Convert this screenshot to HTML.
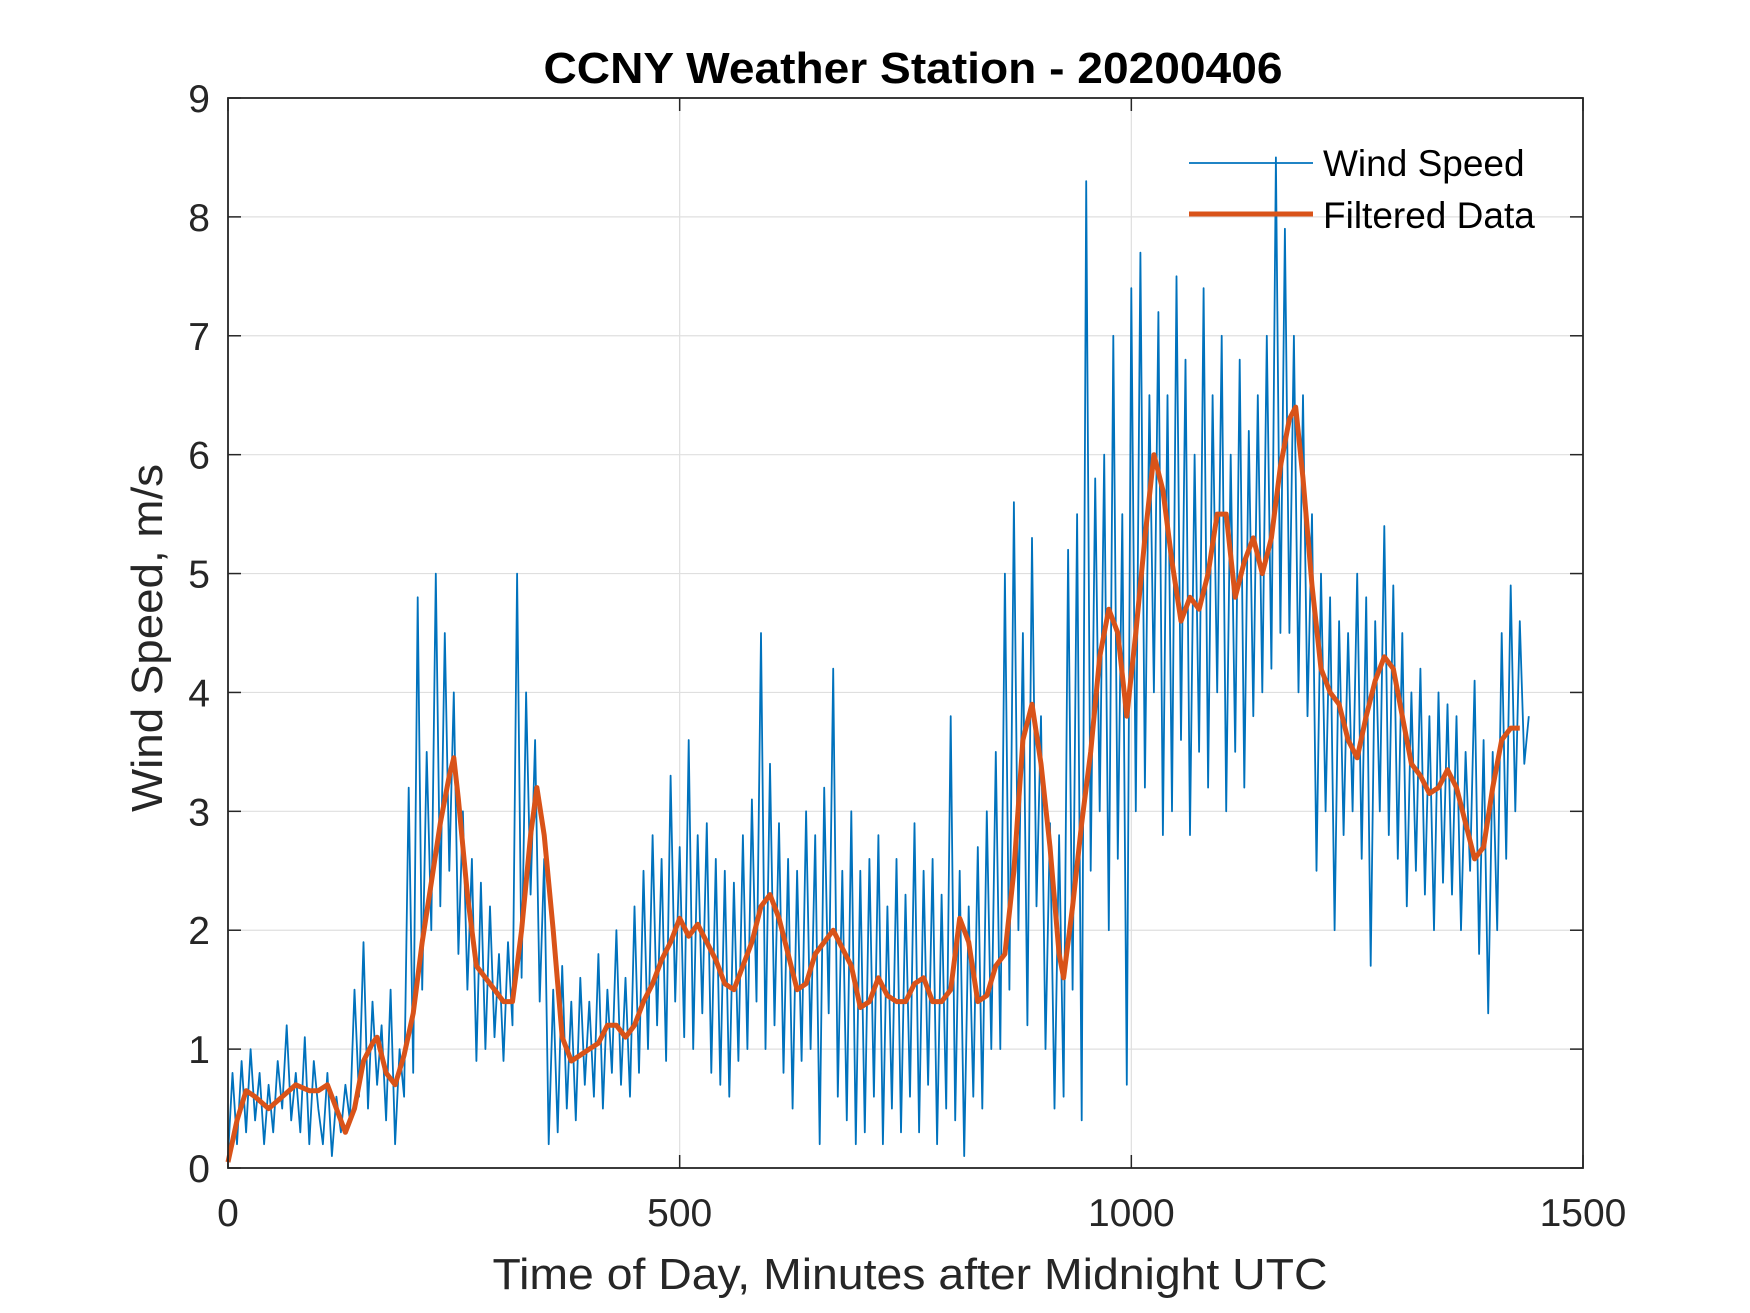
<!DOCTYPE html>
<html><head><meta charset="utf-8"><style>
html,body{margin:0;padding:0;background:#fff;}
svg{display:block;font-family:"Liberation Sans",Arial,sans-serif;}
</style></head><body>
<svg id="chart" width="1750" height="1313" viewBox="0 0 1750 1313" xmlns="http://www.w3.org/2000/svg">
<rect width="1750" height="1313" fill="#fff"/>
<g id="grid"></g>
<g id="series"></g>
<g id="axes"></g>
<text x="913" y="83" text-anchor="middle" font-size="44" font-weight="bold" fill="#000" textLength="739" lengthAdjust="spacingAndGlyphs">CCNY Weather Station - 20200406</text>
<text x="910" y="1289" text-anchor="middle" font-size="44" fill="#262626" textLength="835" lengthAdjust="spacingAndGlyphs">Time of Day, Minutes after Midnight UTC</text>
<text transform="translate(162,638) rotate(-90)" text-anchor="middle" font-size="44" fill="#262626" textLength="348" lengthAdjust="spacingAndGlyphs">Wind Speed, m/s</text>
<g>
  <line x1="1189" y1="163" x2="1313" y2="163" stroke="#0072BD" stroke-width="1.8"/>
  <text x="1323" y="176" font-size="37" fill="#000">Wind Speed</text>
  <line x1="1189" y1="214" x2="1313" y2="214" stroke="#D95319" stroke-width="5"/>
  <text x="1323" y="228" font-size="37" fill="#000">Filtered Data</text>
</g>
</svg>
<script>
const rawStep = 5;
const windSpeed = [
0.1,0.8,0.2,0.9,0.3,1.0,0.4,0.8,0.2,0.7,
0.3,0.9,0.5,1.2,0.4,0.8,0.3,1.1,0.2,0.9,
0.5,0.2,0.8,0.1,0.6,0.3,0.7,0.4,1.5,0.6,
1.9,0.5,1.4,0.7,1.2,0.4,1.5,0.2,1.0,0.6,
3.2,0.8,4.8,1.5,3.5,2.0,5.0,2.2,4.5,2.5,
4.0,1.8,3.0,1.5,2.6,0.9,2.4,1.0,2.2,1.1,
1.8,0.9,1.9,1.2,5.0,1.6,4.0,2.3,3.6,1.4,
2.6,0.2,1.5,0.3,1.7,0.5,1.4,0.4,1.6,0.7,
1.4,0.6,1.8,0.5,1.5,0.8,2.0,0.7,1.6,0.6,
2.2,0.8,2.5,1.0,2.8,1.2,2.6,0.9,3.3,1.4,
2.7,1.1,3.6,1.0,2.8,1.3,2.9,0.8,2.6,0.7,
2.5,0.6,2.4,0.9,2.8,1.0,3.1,1.4,4.5,1.0,
3.4,1.2,2.9,0.8,2.6,0.5,2.5,0.9,3.0,1.0,
2.8,0.2,3.2,1.3,4.2,0.6,2.5,0.4,3.0,0.2,
2.5,0.3,2.6,0.6,2.8,0.2,2.2,0.5,2.6,0.3,
2.3,0.6,2.9,0.3,2.5,0.7,2.6,0.2,2.3,0.5,
3.8,0.4,2.5,0.1,2.2,0.6,2.7,0.5,3.0,1.0,
3.5,1.0,5.0,1.5,5.6,2.0,4.5,1.2,5.3,2.2,
3.8,1.0,2.9,0.5,2.8,0.6,5.2,1.5,5.5,0.4,
8.3,2.5,5.8,3.0,6.0,2.0,7.0,2.6,5.5,0.7,
7.4,3.0,7.7,3.2,6.5,4.0,7.2,2.8,6.5,3.0,
7.5,3.6,6.8,2.8,6.0,3.5,7.4,3.2,6.5,4.0,
7.0,3.0,6.0,3.5,6.8,3.2,6.2,3.8,6.5,4.0,
7.0,4.2,8.5,4.5,7.9,4.5,7.0,4.0,6.5,3.8,
5.5,2.5,5.0,3.0,4.8,2.0,4.6,2.8,4.5,3.0,
5.0,2.6,4.8,1.7,4.6,3.0,5.4,2.8,4.9,2.6,
4.5,2.2,4.0,2.5,4.2,2.3,3.8,2.0,4.0,2.4,
3.9,2.3,3.8,2.0,3.5,2.5,4.1,1.8,3.6,1.3,
3.5,2.0,4.5,2.6,4.9,3.0,4.6,3.4,3.8
];
const filtT = [0,10,20,30,45,60,75,90,100,110,120,130,140,150,160,165,175,185,195,205,215,225,235,245,250,255,265,275,285,295,305,315,325,335,342,350,360,370,380,390,400,410,420,430,440,450,460,470,480,490,500,510,520,530,540,550,560,570,580,590,600,610,620,630,640,650,660,670,680,690,700,710,720,730,740,750,760,770,780,790,800,810,820,830,840,850,860,870,880,890,900,910,920,925,935,945,955,965,975,985,995,1005,1015,1025,1035,1045,1055,1065,1075,1085,1095,1105,1115,1125,1135,1145,1155,1165,1175,1182,1190,1200,1210,1220,1230,1240,1250,1260,1270,1280,1290,1300,1310,1320,1330,1340,1350,1360,1370,1380,1390,1400,1410,1420,1430];
const filtV = [0.05,0.4,0.65,0.6,0.5,0.6,0.7,0.65,0.65,0.7,0.5,0.3,0.5,0.9,1.05,1.1,0.8,0.7,0.95,1.3,1.9,2.4,2.9,3.3,3.45,3.1,2.3,1.7,1.6,1.5,1.4,1.4,2.0,2.8,3.2,2.8,2.0,1.1,0.9,0.95,1.0,1.05,1.2,1.2,1.1,1.2,1.4,1.55,1.75,1.9,2.1,1.95,2.05,1.9,1.75,1.55,1.5,1.7,1.9,2.2,2.3,2.1,1.8,1.5,1.55,1.8,1.9,2.0,1.85,1.7,1.35,1.4,1.6,1.45,1.4,1.4,1.55,1.6,1.4,1.4,1.5,2.1,1.9,1.4,1.45,1.7,1.8,2.5,3.6,3.9,3.4,2.7,1.8,1.6,2.2,2.9,3.5,4.3,4.7,4.5,3.8,4.5,5.3,6.0,5.7,5.1,4.6,4.8,4.7,5.0,5.5,5.5,4.8,5.1,5.3,5.0,5.3,5.9,6.3,6.4,5.8,4.9,4.2,4.0,3.9,3.6,3.45,3.8,4.1,4.3,4.2,3.8,3.4,3.3,3.15,3.2,3.35,3.2,2.9,2.6,2.7,3.2,3.6,3.7,3.7];
const xTicks = [0,500,1000,1500];
const yTicks = [0,1,2,3,4,5,6,7,8,9];

const L=228,R=1583,T=98,B=1168;
const sx=v=>L+(v/1500)*(R-L);
const sy=v=>B-(v/9)*(B-T);
const NS="http://www.w3.org/2000/svg";
function mk(tag,attrs,parent){const e=document.createElementNS(NS,tag);for(const k in attrs)e.setAttribute(k,attrs[k]);parent.appendChild(e);return e;}
const grid=document.getElementById('grid'),series=document.getElementById('series'),axes=document.getElementById('axes');
xTicks.forEach(t=>{
  const g=mk('line',{x1:sx(t),x2:sx(t),y1:T,y2:B,stroke:'#dfdfdf','stroke-width':1.2},grid);
  
  
  const tk1=mk('line',{x1:sx(t),x2:sx(t),y1:B,y2:B-13,stroke:'#262626','stroke-width':1.5},axes);
  
  
  const tk2=mk('line',{x1:sx(t),x2:sx(t),y1:T,y2:T+13,stroke:'#262626','stroke-width':1.5},axes);
  
  
  const lb=mk('text',{x:sx(t),y:1226,'text-anchor':'middle','font-size':39,fill:'#262626'},axes);
  lb.textContent=t;
  
  
});
yTicks.forEach(t=>{
  const g=mk('line',{x1:L,x2:R,y1:sy(t),y2:sy(t),stroke:'#dfdfdf','stroke-width':1.2},grid);
  
  
  const tk1=mk('line',{x1:L,x2:L+13,y1:sy(t),y2:sy(t),stroke:'#262626','stroke-width':1.5},axes);
  
  
  const tk2=mk('line',{x1:R,x2:R-13,y1:sy(t),y2:sy(t),stroke:'#262626','stroke-width':1.5},axes);
  
  
  const lb=mk('text',{x:210,y:sy(t)+14,'text-anchor':'end','font-size':39,fill:'#262626'},axes);
  lb.textContent=t;
  
  
});
const frame=mk('rect',{x:L,y:T,width:R-L,height:B-T,fill:'none',stroke:'#262626','stroke-width':1.8},axes);



const rawPts=windSpeed.map((v,i)=>sx(i*rawStep).toFixed(1)+','+sy(v).toFixed(1)).join(' ');
const raw=mk('polyline',{points:rawPts,fill:'none',stroke:'#0072BD','stroke-width':1.8,'stroke-linejoin':'round'},series);


const fPts=filtV.map((v,i)=>sx(filtT[i]).toFixed(1)+','+sy(v).toFixed(1)).join(' ');
const filt=mk('polyline',{points:fPts,fill:'none',stroke:'#D95319','stroke-width':5,'stroke-linejoin':'round'},series);


</script>
</body></html>
